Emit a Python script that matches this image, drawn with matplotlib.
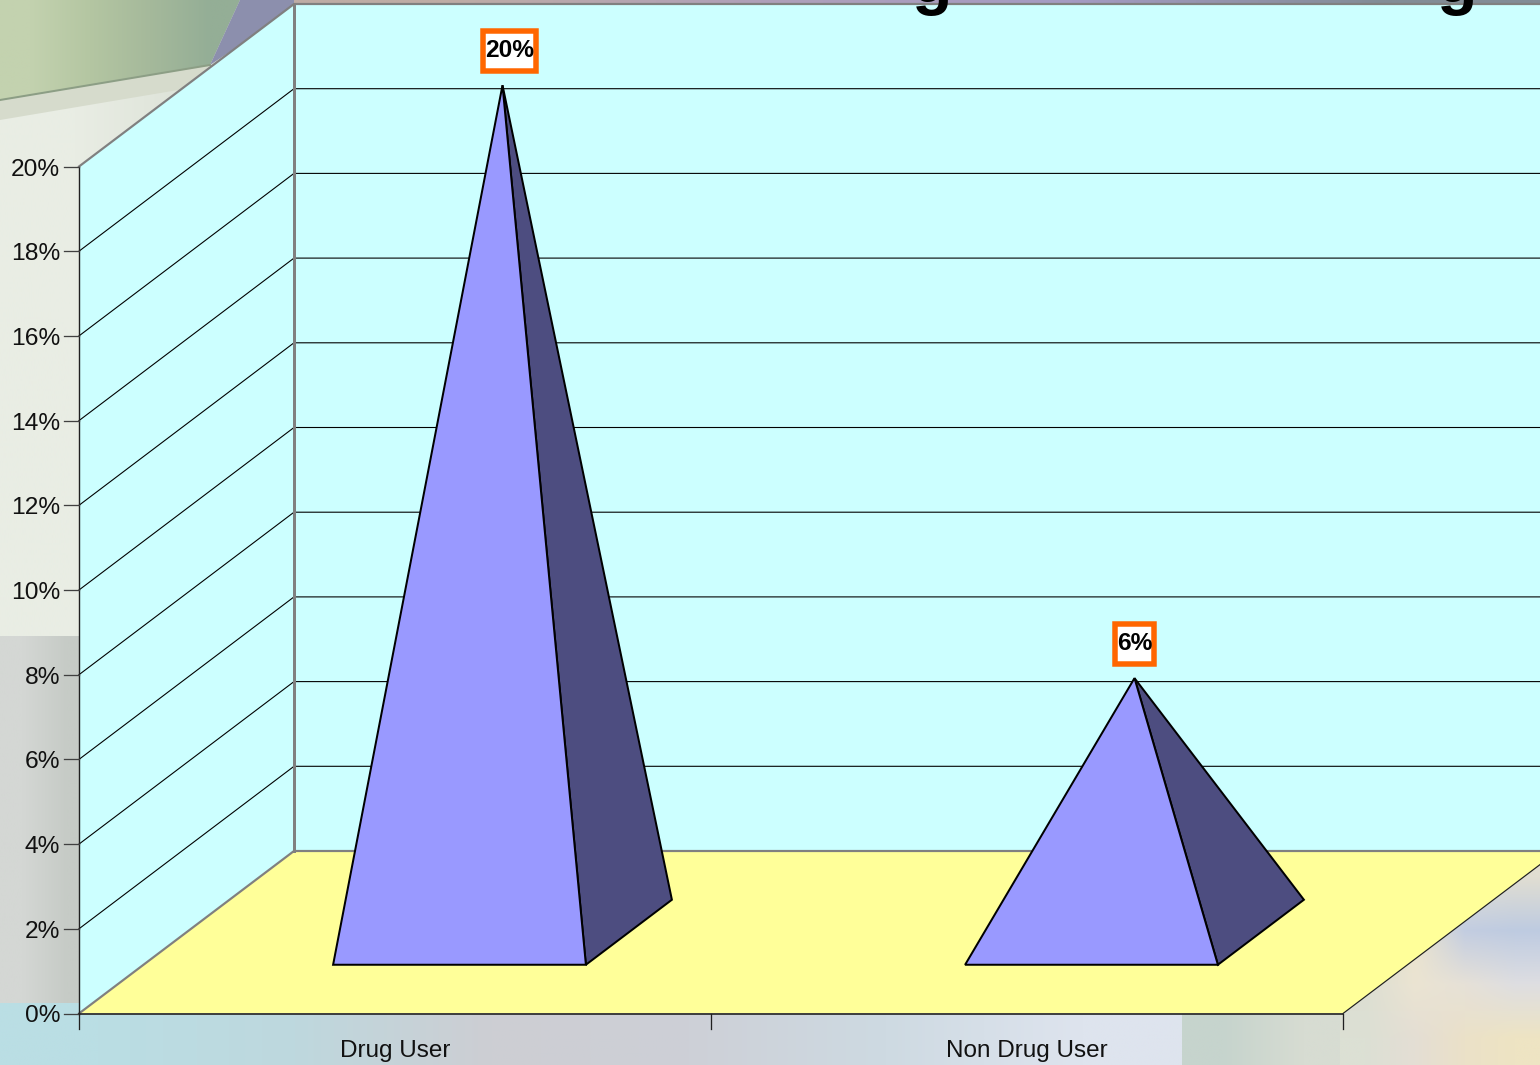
#!/usr/bin/env python
# -*- coding: utf-8 -*-
"""
Pyramid chart in the style of a 3D office chart, on a slide background
"""
import numpy as np
import matplotlib
matplotlib.use("Agg")
import matplotlib.pyplot as plt
from matplotlib.patches import Polygon, Rectangle

plt.rcParams['font.family'] = ['Liberation Sans', 'DejaVu Sans']

categories = ["Drug User", "Non Drug User"]
values = [20, 6]
value_labels = ["20%", "6%"]
y_ticks = [0, 2, 4, 6, 8, 10, 12, 14, 16, 18, 20]
y_tick_labels = ["0%", "2%", "4%", "6%", "8%", "10%", "12%", "14%", "16%", "18%", "20%"]

# projection of the fake 3D box, in pixels
X0, Y0 = 79.0, 1013.5
CAT_W = 632.0
VAL_H = 42.35
DEPTH_X, DEPTH_Y = 215.0, 162.5
N_WIDE = 2.0  # categories on the axis
Y_TOP = 20.0
PX = 0.72  # one pixel in points

# part of the category / depth taken by a pyramid base
BASE_LO, BASE_HI = 0.3, 0.7


def project(cat, val, depth=0.0):
    return (X0 + cat * CAT_W + depth * DEPTH_X,
            Y0 - val * VAL_H - depth * DEPTH_Y)


def gradient(ax, colors, extent, clip=None, zorder=0):
    img = np.array(colors, dtype=float) / 255.0
    im = ax.imshow(img, extent=extent, aspect='auto', interpolation='bilinear',
                   zorder=zorder)
    if clip is not None:
        patch = Polygon(clip, closed=True, transform=ax.transData)
        im.set_clip_path(patch)
    return im


fig = plt.figure(figsize=(15.4, 10.65), dpi=100)
ax = fig.add_axes([0, 0, 1, 1])
ax.axis('off')

# Slide background
fig.patch.set_facecolor((0.87, 0.89, 0.85))
gradient(ax, [[(233, 237, 228), (218, 224, 213)]], (0, 300, 636, 0))
gradient(ax, [[(212, 215, 212), (198, 203, 198)]], (0, 90, 1003, 636))
gradient(ax, [[(186, 222, 228), (190, 216, 222), (205, 206, 211), (205, 208, 215),
               (206, 218, 226), (222, 228, 238)]], (0, 1182, 1065, 1003))
gradient(ax, [[(198, 212, 205), (215, 220, 210)]], (1182, 1345, 1065, 1013))
gradient(ax, [[(214, 220, 205), (230, 228, 210), (225, 225, 215), (225, 222, 210)],
              [(215, 220, 208), (235, 228, 205), (195, 205, 225), (190, 203, 225)],
              [(220, 222, 210), (235, 228, 210), (230, 225, 215), (222, 222, 225)],
              [(220, 224, 212), (228, 222, 212), (235, 225, 200), (238, 228, 195)]],
         (1340, 1540, 1065, 850))
ax.add_patch(Polygon([(0, 100), (212, 65), (190, 88), (0, 120)], closed=True,
                     fc=(0.84, 0.86, 0.80), ec='none', zorder=0.5))
gradient(ax, [[(195, 210, 175), (180, 198, 162), (165, 185, 155), (148, 174, 150)]],
         (0, 240, 100, 0), clip=[(0, 0), (240, 0), (210, 65), (0, 100)], zorder=0.6)
ax.plot([0, 210], [100, 65], color=(0.55, 0.62, 0.52), lw=2 * PX, zorder=0.7)
ax.add_patch(Polygon([(240, 0), (300, 0), (300, 5), (210, 65)], closed=True,
                     fc=(0.55, 0.56, 0.68), ec='none', zorder=0.6))
gradient(ax, [[(190, 172, 165), (175, 160, 185), (165, 155, 195), (130, 140, 150)]],
         (294, 1540, 6, 0), zorder=0.6)

wall_color = '#CCFFFF'
floor_color = '#FFFF99'
edge_grey = '#808080'

# Side wall, back wall and floor
ax.add_patch(Polygon([project(0, 0), project(0, Y_TOP), project(0, Y_TOP, 1), project(0, 0, 1)],
                     closed=True, fc=wall_color, ec='none', zorder=1))
ax.add_patch(Polygon([project(0, 0, 1), project(0, Y_TOP, 1), project(N_WIDE, Y_TOP, 1),
                      project(N_WIDE, 0, 1)],
                     closed=True, fc=wall_color, ec='none', zorder=1))
ax.add_patch(Polygon([project(0, 0), project(N_WIDE, 0), project(N_WIDE, 0, 1), project(0, 0, 1)],
                     closed=True, fc=floor_color, ec='none', zorder=1))

# Gridlines on both walls
for val in y_ticks[1:-1]:
    xs, ys = zip(project(0, val), project(0, val, 1), project(N_WIDE, val, 1))
    ax.plot(xs, ys, color='black', lw=1.1 * PX, zorder=2)

# Wall edges
xs, ys = zip(project(0, Y_TOP), project(0, Y_TOP, 1), project(N_WIDE, Y_TOP, 1))
ax.plot(xs, ys, color=edge_grey, lw=2.2 * PX, zorder=2.5)
xs, ys = zip(project(0, 0), project(0, 0, 1), project(N_WIDE, 0, 1))
ax.plot(xs, ys, color=edge_grey, lw=2.2 * PX, zorder=2.5)
xs, ys = zip(project(0, 0, 1), project(0, Y_TOP, 1))
ax.plot(xs, ys, color=edge_grey, lw=3 * PX, zorder=2.5)
xs, ys = zip(project(N_WIDE, 0), project(N_WIDE, 0, 1))
ax.plot(xs, ys, color='#202020', lw=1.2 * PX, zorder=2.5)

# Axis lines and tick marks
xs, ys = zip(project(0, 0), project(N_WIDE, 0))
ax.plot(xs, ys, color='#303030', lw=1.8 * PX, zorder=3)
xs, ys = zip(project(0, 0), project(0, Y_TOP))
ax.plot(xs, ys, color='#202020', lw=1.4 * PX, zorder=3)
for val, lab in zip(y_ticks, y_tick_labels):
    x, y = project(0, val)
    ax.plot([x - 15, x], [y, y], color='#404040', lw=1.3 * PX, zorder=3)
    ax.text(x - 19, y + 3, lab, ha='right', va='center', fontsize=24.5 * PX, color='#111111')
for i in range(len(categories) + 1):
    x, y = project(i, 0)
    ax.plot([x, x], [y, y + 15], color='#202020', lw=1.3 * PX, zorder=3)
for i, cat in enumerate(categories):
    x, y = project(i + 0.5, 0)
    ax.text(x, y + 37, cat, ha='center', va='center', fontsize=24.2 * PX, color='#111111')

# Pyramids
for i, val in enumerate(values):
    front_l = project(i + BASE_LO, 0, BASE_LO)
    front_r = project(i + BASE_HI, 0, BASE_LO)
    back_r = project(i + BASE_HI, 0, BASE_HI)
    apex = project(i + 0.5, val, 0.5)
    ax.add_patch(Polygon([front_r, back_r, apex], closed=True, fc='#4D4D80', ec='black',
                         lw=2 * PX, joinstyle='miter', zorder=4))
    ax.add_patch(Polygon([front_l, front_r, apex], closed=True, fc='#9999FF', ec='black',
                         lw=2 * PX, joinstyle='miter', zorder=4.1))

ax.set_xlim(0, 1540)
ax.set_ylim(1065, 0)

# Value labels with the orange frame
renderer = fig.canvas.get_renderer()
for i, (val, lab) in enumerate(zip(values, value_labels)):
    ax_x, ax_y = project(i + 0.5, val, 0.5)
    cx = ax_x + (7 if len(lab) > 2 else 0)
    cy = ax_y - 34.5
    txt = ax.text(cx, cy, lab, ha='center', va='center', fontsize=24.5 * PX,
                  fontweight='bold', color='black', zorder=6)
    w = txt.get_window_extent(renderer).width + 4
    ax.add_patch(Rectangle((cx - w / 2, cy - 20), w, 40, fc='white', ec='#FF6600',
                           lw=5.5 * PX, joinstyle='miter', zorder=5))

# Title of the slide, only its descenders reach into the picture
for x in [931, 1456]:
    ax.text(x, 2, "g", ha='center', va='baseline', fontsize=66 * PX,
            fontweight='bold', color='black', zorder=6)

fig.savefig("out.png", dpi=100, facecolor=fig.get_facecolor())
